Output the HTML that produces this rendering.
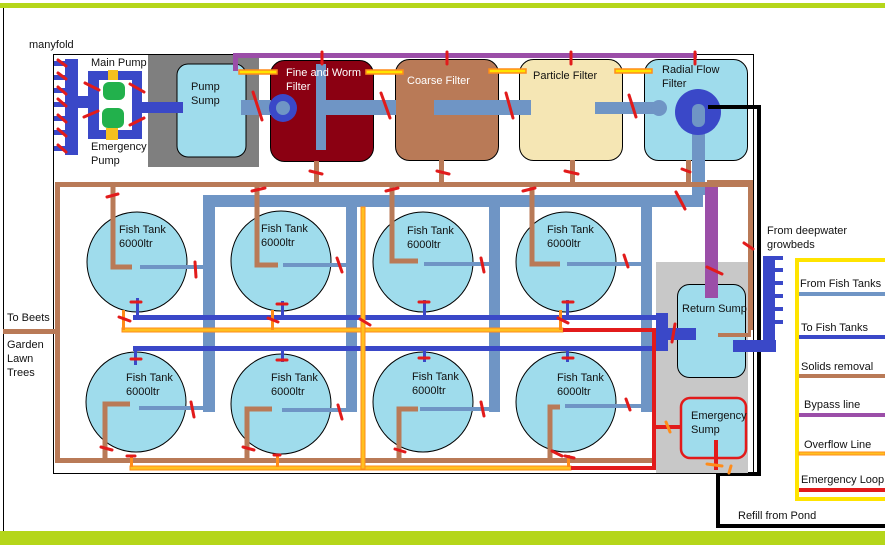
<!DOCTYPE html>
<html><head><meta charset="utf-8"><style>
html,body{margin:0;padding:0;background:#fff}
svg{display:block}
text{font-family:"Liberation Sans",sans-serif;font-size:11px;fill:#111}
</style></head><body>
<svg width="885" height="545" viewBox="0 0 885 545" xmlns="http://www.w3.org/2000/svg">
<rect x="0" y="0" width="885" height="545" fill="#fff"/>
<rect x="0" y="3" width="885" height="5" fill="#b5d61a"/>
<rect x="0" y="531" width="885" height="14" fill="#b5d61a"/>
<line x1="3.5" y1="8" x2="3.5" y2="531" stroke="#000" stroke-width="1"/>
<rect x="53.5" y="54.5" width="700" height="419" fill="none" stroke="#000"/>
<text x="29" y="48">manyfold</text>
<rect x="65" y="59" width="13" height="96" fill="#3a48c8"/>
<g fill="#3a48c8"><rect x="54" y="61" width="12" height="5"/><rect x="54" y="75" width="12" height="5"/><rect x="54" y="88" width="12" height="5"/><rect x="54" y="102" width="12" height="5"/><rect x="54" y="116" width="12" height="5"/><rect x="54" y="130" width="12" height="5"/><rect x="54" y="146" width="12" height="5"/>
<rect x="78" y="96" width="12" height="12"/></g>
<rect x="88" y="71" width="54" height="68" fill="#3a48c8"/>
<rect x="99" y="80" width="33" height="50" fill="#fff"/>
<rect x="108" y="70" width="10" height="10" fill="#f5c020"/>
<rect x="106" y="128" width="12" height="12" fill="#f5c020"/>
<rect x="103" y="82" width="22" height="18" rx="6" fill="#22b14c"/>
<rect x="102" y="108" width="22" height="20" rx="6" fill="#22b14c"/>
<text x="91" y="66">Main Pump</text>
<text x="91" y="150">Emergency</text><text x="91" y="164">Pump</text>
<rect x="148" y="55" width="111" height="112" fill="#7f7f7f"/>
<rect x="177" y="64" width="69" height="93" rx="11" fill="#9fdcec" stroke="#000"/>
<rect x="142" y="102" width="41" height="11" fill="#3a48c8"/>
<text x="191" y="90">Pump</text><text x="191" y="104">Sump</text>
<rect x="270.5" y="60.5" width="103" height="101" rx="14" fill="#8b0012" stroke="#000"/>
<rect x="395.5" y="59.5" width="103" height="101" rx="14" fill="#b97a57" stroke="#000"/>
<rect x="519.5" y="59.5" width="103" height="101" rx="14" fill="#f5e6b4" stroke="#000"/>
<rect x="644.5" y="59.5" width="103" height="101" rx="14" fill="#9fdcec" stroke="#000"/>
<g fill="#6f95c5">
<rect x="241" y="100" width="30" height="15"/>
<rect x="316" y="100" width="80" height="15"/>
<rect x="316" y="64" width="10" height="86"/>
<rect x="434" y="100" width="97" height="15"/>
<rect x="595" y="102" width="60" height="12"/>
<rect x="692" y="110" width="13" height="85"/>
</g>
<circle cx="283" cy="108" r="14" fill="#3a48c8"/><circle cx="283" cy="108" r="7" fill="#6f95c5"/>
<circle cx="659" cy="108" r="8" fill="#6f95c5"/>
<circle cx="698" cy="112" r="23" fill="#3a48c8"/>
<rect x="692" y="104" width="13" height="23" rx="6" fill="#6f95c5"/>
<text x="286" y="76" style="fill:#fff">Fine and Worm</text><text x="286" y="90" style="fill:#fff">Filter</text>
<text x="407" y="84" style="fill:#fff">Coarse Filter</text>
<text x="533" y="79">Particle Filter</text>
<text x="662" y="73">Radial Flow</text><text x="662" y="87">Filter</text>
<rect x="233" y="53" width="464" height="5" fill="#9b4ea8"/>
<rect x="233" y="53" width="5" height="18" fill="#9b4ea8"/>
<rect x="705" y="183" width="13" height="80" fill="#9b4ea8"/>
<g fill="#ffe400" stroke="#ff8c1a" stroke-width="1.5">
<rect x="239" y="70" width="38" height="4"/><rect x="366" y="70" width="37" height="4"/>
<rect x="489" y="69" width="37" height="4"/><rect x="615" y="69" width="37" height="4"/>
</g>
<polyline points="708,107 759,107 759,474 718,474 718,526 885,526" fill="none" stroke="#000" stroke-width="4"/>
<text x="738" y="519">Refill from Pond</text>
<g fill="#b97a57">
<rect x="55" y="182" width="695" height="5"/>
<rect x="55" y="182" width="5" height="280"/>
<rect x="55" y="458" width="600" height="5"/>
<rect x="3" y="329" width="55" height="5"/>
<rect x="314" y="161" width="5" height="23"/><rect x="439" y="160" width="5" height="23"/><rect x="570" y="160" width="5" height="23"/><rect x="686" y="160" width="5" height="23"/>
<rect x="707" y="180" width="46" height="5"/><rect x="748" y="180" width="5" height="150"/>
<rect x="718" y="330" width="33" height="5"/>
</g>
<text x="7" y="321">To Beets</text>
<text x="7" y="348">Garden</text><text x="7" y="362">Lawn</text><text x="7" y="376">Trees</text>
<rect x="656" y="262" width="92" height="211" fill="#c8c8c8"/>
<g fill="#6f95c5">
<rect x="203" y="195" width="500" height="12"/>
<rect x="203" y="195" width="12" height="217"/>
<rect x="346" y="195" width="11" height="217"/>
<rect x="489" y="195" width="11" height="217"/>
<rect x="641" y="195" width="11" height="217"/>
</g>
<g fill="#9fdcec" stroke="#000">
<circle cx="137" cy="262" r="50"/><circle cx="281" cy="261" r="50"/><circle cx="423" cy="262" r="50"/><circle cx="566" cy="262" r="50"/>
<circle cx="136" cy="402" r="50"/><circle cx="281" cy="404" r="50"/><circle cx="423" cy="402" r="50"/><circle cx="566" cy="402" r="50"/>
</g>
<g>
<text x="119" y="233">Fish Tank</text><text x="119" y="247">6000ltr</text>
<text x="261" y="232">Fish Tank</text><text x="261" y="246">6000ltr</text>
<text x="407" y="234">Fish Tank</text><text x="407" y="248">6000ltr</text>
<text x="547" y="233">Fish Tank</text><text x="547" y="247">6000ltr</text>
<text x="126" y="381">Fish Tank</text><text x="126" y="395">6000ltr</text>
<text x="271" y="381">Fish Tank</text><text x="271" y="395">6000ltr</text>
<text x="412" y="380">Fish Tank</text><text x="412" y="394">6000ltr</text>
<text x="557" y="381">Fish Tank</text><text x="557" y="395">6000ltr</text>
</g>
<g fill="none" stroke="#b97a57" stroke-width="5">
<polyline points="113,185 113,267 132,267"/><polyline points="257,185 257,265 278,265"/>
<polyline points="392,185 392,261 418,261"/><polyline points="532,185 532,264 560,264"/>
<polyline points="130,404 105,404 105,460"/><polyline points="272,409 247,409 247,460"/>
<polyline points="418,409 399,409 399,460"/><polyline points="560,407 550,407 550,460"/>
</g>
<g stroke="#6f95c5" stroke-width="4">
<line x1="140" y1="267" x2="205" y2="267"/><line x1="283" y1="265" x2="348" y2="265"/>
<line x1="424" y1="264" x2="490" y2="264"/><line x1="567" y1="264" x2="643" y2="264"/>
<line x1="139" y1="408" x2="205" y2="408"/><line x1="282" y1="410" x2="348" y2="410"/>
<line x1="420" y1="409" x2="490" y2="409"/><line x1="565" y1="406" x2="643" y2="406"/>
</g>
<g fill="#3a48c8">
<rect x="133" y="315" width="525" height="5"/><rect x="133" y="346" width="525" height="5"/>
<rect x="136" y="298" width="3" height="18"/><rect x="281" y="301" width="3" height="15"/><rect x="423" y="300" width="3" height="16"/><rect x="566" y="300" width="3" height="16"/>
<rect x="134" y="350" width="3" height="15"/><rect x="281" y="350" width="3" height="12"/><rect x="423" y="350" width="3" height="12"/><rect x="566" y="350" width="3" height="12"/>
<rect x="656" y="313" width="12" height="38"/>
<rect x="733" y="340" width="43" height="12"/>
<rect x="763" y="256" width="12" height="96"/>
<rect x="775" y="256" width="8" height="4"/><rect x="775" y="268" width="8" height="4"/><rect x="775" y="281" width="8" height="4"/><rect x="775" y="294" width="8" height="4"/><rect x="775" y="307" width="8" height="4"/><rect x="775" y="320" width="8" height="4"/>
</g>
<text x="767" y="234">From deepwater</text><text x="767" y="248">growbeds</text>
<rect x="677.5" y="284.5" width="68" height="93" rx="12" fill="#9fdcec" stroke="#000"/>
<rect x="705" y="262" width="13" height="36" fill="#9b4ea8"/>
<rect x="666" y="328" width="30" height="12" fill="#3a48c8"/>
<rect x="733" y="340" width="30" height="12" fill="#3a48c8"/>
<rect x="718" y="333" width="33" height="4" fill="#b97a57"/>
<text x="682" y="312">Return Sump</text>
<rect x="681" y="398" width="65" height="60" rx="9" fill="#9fdcec" stroke="#e21b1b" stroke-width="2.5"/>
<text x="691" y="419">Emergency</text><text x="691" y="433">Sump</text>
<rect x="714" y="440" width="4" height="30" fill="#e21b1b"/>
<g fill="#ffc020" stroke="#ff8c1a" stroke-width="1">
<rect x="122" y="328" width="441" height="4"/>
<rect x="130" y="466" width="441" height="4"/>
<rect x="361" y="207" width="4" height="262"/>
</g>
<g fill="#ff8c1a"><rect x="122" y="310" width="3" height="20"/><rect x="271" y="310" width="3" height="20"/><rect x="559" y="310" width="3" height="20"/><rect x="130" y="455" width="3" height="12"/><rect x="276" y="455" width="3" height="12"/><rect x="567" y="455" width="3" height="12"/></g>
<polyline points="563,330 654,330 654,468 571,468" fill="none" stroke="#e21b1b" stroke-width="4"/>
<line x1="654" y1="427" x2="682" y2="427" stroke="#e21b1b" stroke-width="4"/>
<g stroke="#e21b1b" stroke-width="3" stroke-linecap="round">
<line x1="58" y1="60" x2="66" y2="66"/><line x1="58" y1="73" x2="66" y2="79"/><line x1="58" y1="87" x2="66" y2="94"/><line x1="58" y1="99" x2="66" y2="106"/><line x1="58" y1="115" x2="66" y2="122"/><line x1="58" y1="129" x2="66" y2="136"/><line x1="58" y1="145" x2="66" y2="152"/>
<line x1="85" y1="83" x2="99" y2="90"/><line x1="130" y1="84" x2="144" y2="92"/><line x1="84" y1="117" x2="98" y2="111"/><line x1="130" y1="125" x2="144" y2="118"/>
<line x1="253" y1="92" x2="262" y2="120"/><line x1="381" y1="93" x2="390" y2="118"/><line x1="506" y1="93" x2="513" y2="118"/><line x1="629" y1="95" x2="636" y2="117"/>
<line x1="322" y1="52" x2="322" y2="64"/><line x1="447" y1="52" x2="447" y2="64"/><line x1="571" y1="52" x2="571" y2="64"/><line x1="695" y1="52" x2="695" y2="64"/>
<line x1="310" y1="171" x2="322" y2="174"/><line x1="437" y1="171" x2="449" y2="174"/><line x1="565" y1="171" x2="578" y2="174"/><line x1="682" y1="169" x2="690" y2="172"/>
<line x1="107" y1="197" x2="118" y2="194"/><line x1="252" y1="191" x2="265" y2="188"/><line x1="386" y1="191" x2="398" y2="188"/><line x1="523" y1="191" x2="535" y2="188"/>
<line x1="676" y1="192" x2="685" y2="209"/><line x1="744" y1="243" x2="753" y2="249"/><line x1="707" y1="267" x2="722" y2="274"/>
<line x1="195" y1="262" x2="196" y2="277"/><line x1="337" y1="258" x2="342" y2="272"/><line x1="481" y1="258" x2="484" y2="272"/><line x1="624" y1="255" x2="628" y2="267"/>
<line x1="191" y1="402" x2="194" y2="417"/><line x1="338" y1="405" x2="342" y2="419"/><line x1="481" y1="402" x2="484" y2="416"/><line x1="626" y1="399" x2="630" y2="410"/>
<line x1="131" y1="302" x2="141" y2="302"/><line x1="277" y1="304" x2="287" y2="304"/><line x1="419" y1="302" x2="429" y2="302"/><line x1="563" y1="302" x2="573" y2="302"/>
<line x1="131" y1="359" x2="141" y2="359"/><line x1="277" y1="360" x2="287" y2="360"/><line x1="419" y1="358" x2="429" y2="358"/><line x1="563" y1="358" x2="573" y2="358"/>
<line x1="119" y1="317" x2="130" y2="321"/><line x1="268" y1="318" x2="278" y2="322"/><line x1="360" y1="319" x2="370" y2="325"/><line x1="558" y1="318" x2="568" y2="323"/>
<line x1="101" y1="447" x2="112" y2="450"/><line x1="243" y1="447" x2="254" y2="450"/><line x1="395" y1="449" x2="405" y2="452"/><line x1="552" y1="451" x2="562" y2="456"/>
<line x1="127" y1="456" x2="135" y2="456"/><line x1="274" y1="455" x2="280" y2="455"/><line x1="565" y1="456" x2="574" y2="458"/>
<line x1="675" y1="324" x2="672" y2="342"/>
</g>
<g stroke="#ff8c1a" stroke-width="3" stroke-linecap="round"><line x1="666" y1="422" x2="670" y2="432"/><line x1="707" y1="464" x2="722" y2="466"/><line x1="731" y1="466" x2="729" y2="473"/></g>
<rect x="797" y="260" width="92" height="239" fill="#fff" stroke="#ffe400" stroke-width="4"/>
<text x="800" y="287">From Fish Tanks</text><rect x="799" y="292" width="86" height="4" fill="#6f95c5"/>
<text x="801" y="331">To Fish Tanks</text><rect x="799" y="335" width="86" height="4" fill="#3a48c8"/>
<text x="801" y="370">Solids removal</text><rect x="799" y="374" width="86" height="4" fill="#b97a57"/>
<text x="804" y="408">Bypass line</text><rect x="799" y="413" width="86" height="4" fill="#9b4ea8"/>
<text x="804" y="448">Overflow Line</text><rect x="799" y="452" width="86" height="3" fill="#ffc020" stroke="#ff8c1a" stroke-width="1"/>
<text x="801" y="483">Emergency Loop</text><rect x="799" y="488" width="86" height="4" fill="#e21b1b"/>
</svg>
</body></html>
